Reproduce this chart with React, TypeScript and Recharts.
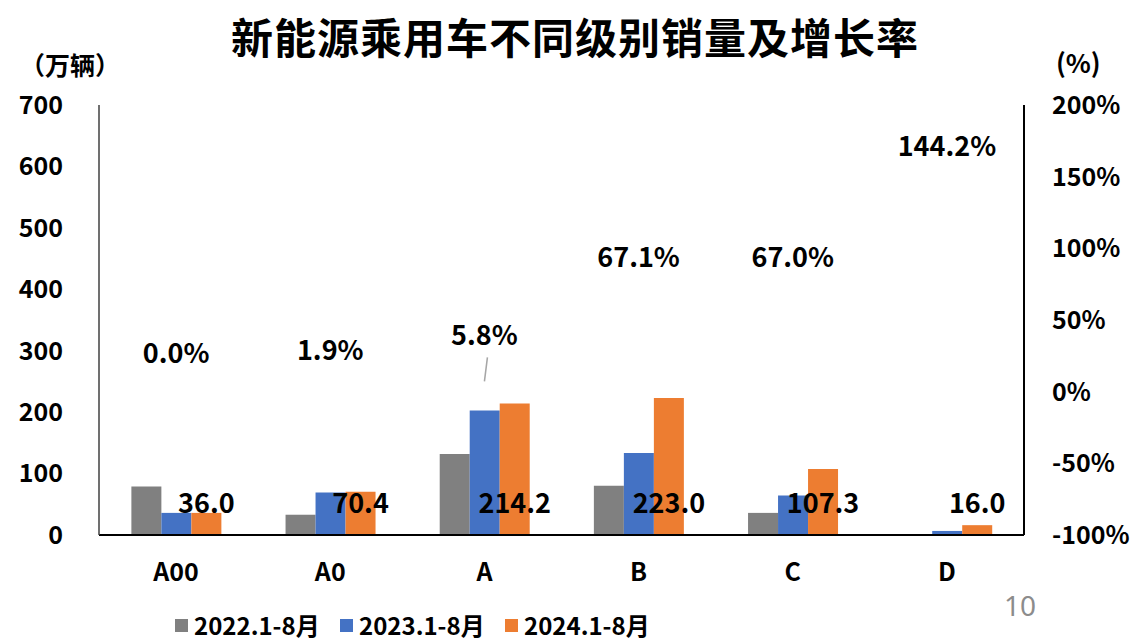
import React from 'react';
import { ComposedChart, Bar, Line, XAxis, YAxis, LabelList } from 'recharts';

const categories = ['A00', 'A0', 'A', 'B', 'C', 'D'];
const sales2022 = [79, 33, 132, 80, 36, 0];
const sales2023 = [36.0, 69.1, 202.5, 133.5, 64.2, 6.6];
const sales2024 = [36.0, 70.4, 214.2, 223.0, 107.3, 16.0];
const growth = [0.0, 1.9, 5.8, 67.1, 67.0, 144.2];

const leftTicks = [0, 100, 200, 300, 400, 500, 600, 700];
const rightTicks = [-100, -50, 0, 50, 100, 150, 200];

const seriesNames = ['2022.1-8月', '2023.1-8月', '2024.1-8月'];
const colors = ['#808080', '#4472c4', '#ed7d31'];

const data = categories.map((c, i) => ({
  name: c,
  s2022: sales2022[i],
  s2023: sales2023[i],
  s2024: sales2024[i],
  growth: growth[i],
}));

const FONT = '"Noto Sans CJK SC", "Noto Sans", sans-serif';

// value label sits at a fixed height above the axis, centred on the orange bar
const SalesLabel = (props: any) => {
  const { x, y, width, height, value } = props;
  return (
    <text
      x={x + width / 2}
      y={y + height - 34}
      textAnchor="middle"
      dominantBaseline="central"
      fontFamily={FONT}
      fontWeight={700}
      fontSize={27}
      fill="#000"
    >
      {Number(value).toFixed(1)}
    </text>
  );
};

const GrowthLabel = (props: any) => {
  const { x, y, value, index } = props;
  const lifted = index === 2;
  const dy = lifted ? 50 : 40;
  return (
    <g>
      {lifted && (
        <line x1={x + 3} y1={y - 26} x2={x} y2={y - 2} stroke="#a6a6a6" strokeWidth={1.5} />
      )}
      <text
        x={x}
        y={y - dy}
        textAnchor="middle"
        dominantBaseline="central"
        fontFamily={FONT}
        fontWeight={700}
        fontSize={27}
        fill="#000"
      >
        {Number(value).toFixed(1)}%
      </text>
    </g>
  );
};

const tickStyle = { fill: '#000', fontSize: 25, fontWeight: 700, fontFamily: FONT };

export default function App() {
  return (
    <div style={{ position: 'absolute', left: 0, top: 0, width: 1140, height: 643, background: '#fff', fontFamily: FONT, overflow: 'hidden' }}>
      <div style={{ position: 'absolute', left: 0, width: 1150, top: 6, textAlign: 'center', fontSize: 42, letterSpacing: 1, fontWeight: 700, color: '#000', lineHeight: '60px' }}>
        新能源乘用车不同级别销量及增长率
      </div>
      <div style={{ position: 'absolute', left: 20, top: 46, fontSize: 25, fontWeight: 700, lineHeight: '36px' }}>（万辆）</div>
      <div style={{ position: 'absolute', left: 1056, top: 44, fontSize: 26, fontWeight: 700, lineHeight: '36px' }}>(%)</div>
      <div style={{ position: 'absolute', left: 1004, top: 586, fontSize: 28, color: '#8c8c8c', lineHeight: '38px', fontFamily: '"Noto Sans", sans-serif' }}>10</div>

      <ComposedChart
        width={1140}
        height={643}
        data={data}
        margin={{ top: 105, right: 0, left: 0, bottom: 0 }}
        barCategoryGap="21%"
        barGap={0}
      >
        <XAxis
          dataKey="name"
          height={108}
          axisLine={{ stroke: '#000', strokeWidth: 2 }}
          tickLine={false}
          tick={tickStyle}
          tickMargin={22}
        />
        <YAxis
          yAxisId="left"
          width={99}
          domain={[0, 700]}
          ticks={leftTicks}
          axisLine={{ stroke: '#404040', strokeWidth: 1.5 }}
          tickLine={false}
          tick={tickStyle}
          tickMargin={30}
        />
        <YAxis
          yAxisId="right"
          orientation="right"
          width={116}
          domain={[-100, 200]}
          ticks={rightTicks}
          tickFormatter={(v: number) => `${v}%`}
          axisLine={{ stroke: '#000', strokeWidth: 2 }}
          tickLine={false}
          tick={tickStyle}
          tickMargin={22}
        />
        <Bar yAxisId="left" dataKey="s2022" name={seriesNames[0]} fill={colors[0]} isAnimationActive={false} />
        <Bar yAxisId="left" dataKey="s2023" name={seriesNames[1]} fill={colors[1]} isAnimationActive={false} />
        <Bar yAxisId="left" dataKey="s2024" name={seriesNames[2]} fill={colors[2]} isAnimationActive={false}>
          <LabelList dataKey="s2024" content={<SalesLabel />} />
        </Bar>
        <Line
          yAxisId="right"
          dataKey="growth"
          stroke="none"
          dot={false}
          activeDot={false}
          isAnimationActive={false}
        >
          <LabelList dataKey="growth" content={<GrowthLabel />} />
        </Line>
      </ComposedChart>

      <div style={{ position: 'absolute', left: 0, top: 608, width: 1140, height: 34 }}>
        {seriesNames.map((n, i) => (
          <div key={n} style={{ position: 'absolute', left: [175, 340, 505][i], top: 0, display: 'flex', alignItems: 'center', height: 34 }}>
            <span style={{ width: 13, height: 13, background: colors[i], display: 'inline-block', marginRight: 6 }} />
            <span style={{ fontSize: 24, fontWeight: 700, color: '#000', whiteSpace: 'nowrap', lineHeight: '34px' }}>{n}</span>
          </div>
        ))}
      </div>
    </div>
  );
}
